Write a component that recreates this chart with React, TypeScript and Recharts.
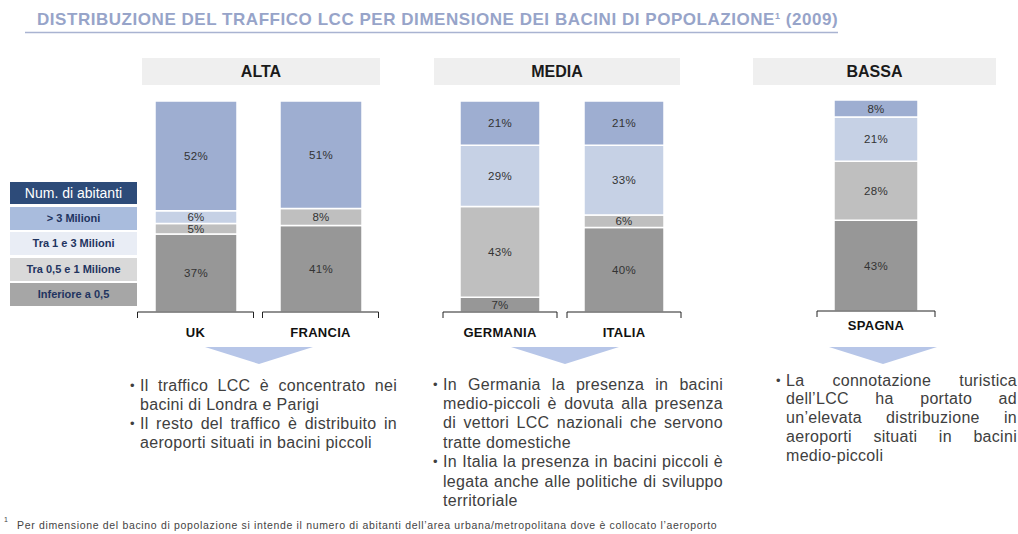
import React from 'react';
import { BarChart, Bar, XAxis, YAxis, LabelList } from 'recharts';

// ---------- data ----------
const countries = ['UK', 'FRANCIA', 'GERMANIA', 'ITALIA', 'SPAGNA'];
const groupNames = ['ALTA', 'MEDIA', 'BASSA'];
const groupOf = [0, 0, 1, 1, 2];

const inferiore05 = [37, 41, 7, 40, 43];
const tra05e1 = [5, 8, 43, 6, 28];
const tra1e3 = [6, 0, 29, 33, 21];
const oltre3 = [52, 51, 21, 21, 8];

const legendTitle = 'Num. di abitanti';
const legendLabels = ['> 3 Milioni', 'Tra 1 e 3 Milioni', 'Tra 0,5 e 1 Milione', 'Inferiore a 0,5'];

const title = 'DISTRIBUZIONE DEL TRAFFICO LCC PER DIMENSIONE DEI BACINI DI POPOLAZIONE';
const footnote = 'Per dimensione del bacino di popolazione si intende il numero di abitanti dell’area urbana/metropolitana dove è collocato l’aeroporto';

const notesAlta = [
  ['Il traffico LCC è concentrato nei', 'bacini di Londra e Parigi'],
  ['Il resto del traffico è distribuito in', 'aeroporti situati in bacini piccoli'],
];
const notesMedia = [
  ['In Germania la presenza in bacini', 'medio-piccoli è dovuta alla presenza', 'di vettori LCC nazionali che servono', 'tratte domestiche'],
  ['In Italia la presenza in bacini piccoli è', 'legata anche alle politiche di sviluppo', 'territoriale'],
];
const notesBassa = [
  ['La connotazione turistica', 'dell’LCC ha portato ad', 'un’elevata distribuzione in', 'aeroporti situati in bacini', 'medio-piccoli'],
];

// series stacked bottom -> top
const series = [
  { key: 'inf', values: inferiore05, color: '#979797' },
  { key: 'mid', values: tra05e1, color: '#bfbfbf' },
  { key: 'low', values: tra1e3, color: '#c6d1e5' },
  { key: 'high', values: oltre3, color: '#9eaed1' },
];
const legendColors = ['#a9bcdd', '#e9edf5', '#d9d9d9', '#a6a6a6'];

const rows = countries.map((name, i) => {
  const r: any = { name, group: groupOf[i] };
  series.forEach((s) => { r[s.key] = s.values[i]; });
  return r;
});

const FONT = '"Liberation Sans", Arial, Helvetica, sans-serif';

const BracketTick = (props: any) => {
  const { x, y, payload, half, labelDy } = props;
  return (
    <g>
      <path d={`M${x - half},${y + 6} V${y} H${x + half} V${y + 6}`} stroke="#222" strokeWidth={1} fill="none" />
      <text x={x} y={y + labelDy} textAnchor="middle" fontWeight="bold" fontSize={13} fill="#111" fontFamily={FONT}>
        {payload.value}
      </text>
    </g>
  );
};

function GroupChart({ group, left, top, width, barSize, half, labelDy }: any) {
  const data = rows.filter((r) => r.group === group);
  return (
    <div style={{ position: 'absolute', left, top }}>
      <BarChart width={width} height={260} data={data} margin={{ top: 10, right: 0, bottom: 0, left: 0 }} barCategoryGap={0}>
        <XAxis
          dataKey="name"
          height={39}
          tickSize={0}
          tickMargin={0}
          axisLine={false}
          tickLine={false}
          interval={0}
          tick={(p: any) => <BracketTick {...p} half={half} labelDy={labelDy} />}
        />
        <YAxis hide domain={[0, 100]} />
        {series.map((s) => (
          <Bar key={s.key} dataKey={s.key} stackId="a" fill={s.color} stroke="#fff" strokeWidth={1.5} barSize={barSize} isAnimationActive={false}>
            <LabelList
              dataKey={s.key}
              position="center"
              fill="#333"
              fontSize={11.5}
              fontFamily={FONT}
              formatter={(v: any) => (v ? `${v}%` : '')}
            />
          </Bar>
        ))}
      </BarChart>
    </div>
  );
}

function Notes({ paras, left, top, width, lh, bulletX }: any) {
  let line = 0;
  const out: any[] = [];
  paras.forEach((p: string[], pi: number) => {
    p.forEach((t, li) => {
      const last = li === p.length - 1;
      const y = top + line * lh;
      if (li === 0) {
        out.push(
          <div key={`b${pi}`} style={{ position: 'absolute', left: bulletX, top: y, lineHeight: `${lh}px`, fontSize: 13 }}>•</div>
        );
      }
      out.push(
        <div
          key={`${pi}-${li}`}
          style={{
            position: 'absolute',
            left,
            top: y,
            width,
            lineHeight: `${lh}px`,
            textAlign: last ? 'left' : 'justify',
            textAlignLast: last ? 'left' : 'justify',
          } as any}
        >
          {t}
        </div>
      );
      line++;
    });
  });
  return <>{out}</>;
}

export default function App() {
  const headers = [
    { x: 142, w: 238 },
    { x: 434, w: 246 },
    { x: 753, w: 243 },
  ];
  const arrows = [259, 565, 883];
  return (
    <div style={{ position: 'absolute', left: 0, top: 0, width: 1018, height: 534, background: '#fff', fontFamily: FONT, color: '#404040', fontSize: 16, letterSpacing: 0.3, overflow: 'hidden' }}>
      <svg width={1018} height={534} style={{ position: 'absolute', left: 0, top: 0 }}>
        <text x={37} y={25} fontSize={17} fontWeight="bold" fill="#97a4c9" fontFamily={FONT} textLength={801} lengthAdjust="spacing">
          {title}
          <tspan fontSize={9} dy={-6}>1</tspan>
          <tspan dy={6}> (2009)</tspan>
        </text>
        <line x1={25} x2={838} y1={32.5} y2={32.5} stroke="#a9b3d1" strokeWidth={1.5} />
        {arrows.map((cx, i) => (
          <polygon key={i} points={`${cx - 54},347 ${cx + 54},347 ${cx},364`} fill="#b7c6e8" />
        ))}
        <text x={4} y={522} fontSize={7} fill="#444" fontFamily={FONT}>1</text>
        <text x={17} y={529} fontSize={10.5} fill="#444" fontFamily={FONT} textLength={700} lengthAdjust="spacing">{footnote}</text>
      </svg>

      {groupNames.map((g, i) => (
        <div key={g} style={{ position: 'absolute', left: headers[i].x, top: 58, width: headers[i].w, height: 27, background: '#efefef', textAlign: 'center', lineHeight: '27px', fontWeight: 'bold', fontSize: 16, color: '#1a1a1a', letterSpacing: 0 }}>
          {g}
        </div>
      ))}

      <div style={{ position: 'absolute', left: 10, top: 182, width: 127, height: 22, background: '#2d4b79', color: '#fff', fontSize: 14, lineHeight: '22px', textAlign: 'center', letterSpacing: 0 }}>
        {legendTitle}
      </div>
      {legendLabels.map((l, i) => (
        <div key={l} style={{ position: 'absolute', left: 10, top: 207 + i * 25.3, width: 127, height: 23, background: legendColors[i], color: '#1f3460', fontSize: 11, fontWeight: 'bold', lineHeight: '23px', textAlign: 'center', letterSpacing: 0 }}>
          {l}
        </div>
      ))}

      <GroupChart group={0} left={133} top={91} width={250} barSize={82} half={58} labelDy={24.5} />
      <GroupChart group={1} left={437.5} top={91} width={248} barSize={80} half={57} labelDy={24.5} />
      <GroupChart group={2} left={814} top={90} width={124} barSize={84} half={59} labelDy={18.5} />

      <Notes paras={notesAlta} left={140} top={375.5} width={257} lh={19.2} bulletX={130} />
      <Notes paras={notesMedia} left={443} top={374.5} width={280} lh={19.4} bulletX={433} />
      <Notes paras={notesBassa} left={786} top={371.5} width={231} lh={18.8} bulletX={776} />
    </div>
  );
}
